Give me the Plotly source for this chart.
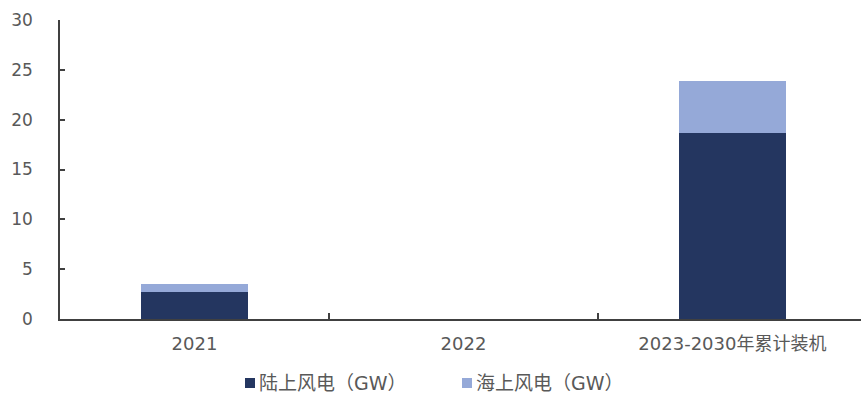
import plotly.graph_objects as go

categories = ["2021", "2022", "2023-2030年累计装机"]
onshore = [2.7, 0, 18.7]
offshore = [0.8, 0, 5.2]
y_ticks = [0, 5, 10, 15, 20, 25, 30]
series_names = ["陆上风电（GW）", "海上风电（GW）"]
series_colors = ["#243660", "#95A9D8"]

fig = go.Figure()
fig.add_trace(go.Bar(x=categories, y=onshore, name=series_names[0],
                     marker=dict(color=series_colors[0], line=dict(width=0))))
fig.add_trace(go.Bar(x=categories, y=offshore, name=series_names[1],
                     marker=dict(color=series_colors[1], line=dict(width=0))))

W, H = 861, 394
L, T, B = 60, 20, 75
PW, PH = W - L, H - T - B


def px_x(p):
    return (p - L) / PW


def px_y(p):
    return (H - B - p) / PH


# legend drawn as swatches + text
legend_starts = [245, 462]
legend_y = 383
for name, color, x0 in zip(series_names, series_colors, legend_starts):
    fig.add_shape(type="rect", xref="paper", yref="paper",
                  x0=px_x(x0), x1=px_x(x0 + 10), y0=px_y(legend_y + 5), y1=px_y(legend_y - 5),
                  fillcolor=color, line=dict(width=0))
    fig.add_annotation(xref="paper", yref="paper", x=px_x(x0 + 13), y=px_y(legend_y),
                       xanchor="left", yanchor="middle", text=name, showarrow=False,
                       height=20, valign="middle", borderpad=0,
                       font=dict(size=19, color="#595959"))

font_family = "DejaVu Sans, Noto Sans CJK SC"
fig.update_layout(
    width=W, height=H,
    barmode="stack", bargap=0.6,
    margin=dict(l=L, r=0, t=T, b=B),
    plot_bgcolor="white", paper_bgcolor="white",
    font=dict(family=font_family, size=16, color="#595959"),
    showlegend=False,
    xaxis=dict(type="category", range=[-0.5, 2.478], showline=True, linecolor="#404040",
               linewidth=1.5, ticks="inside", tickson="boundaries", ticklen=6,
               tickcolor="#404040", tickwidth=1.5, showgrid=False, automargin=False,
               ticklabelstandoff=8, tickfont=dict(size=18, color="#595959")),
    yaxis=dict(range=[0, 30], tickvals=y_ticks, showline=True, linecolor="#404040",
               linewidth=1.5, ticks="inside", ticklen=5, tickcolor="#404040",
               tickwidth=1.5, showgrid=False, zeroline=False, automargin=False,
               ticklabelstandoff=22, tickfont=dict(size=17, color="#595959")),
)
fig.write_html("out.html", config={"displayModeBar": False},
               post_script="document.body.style.margin='0';document.body.style.padding='0';document.body.style.overflow='hidden';")
